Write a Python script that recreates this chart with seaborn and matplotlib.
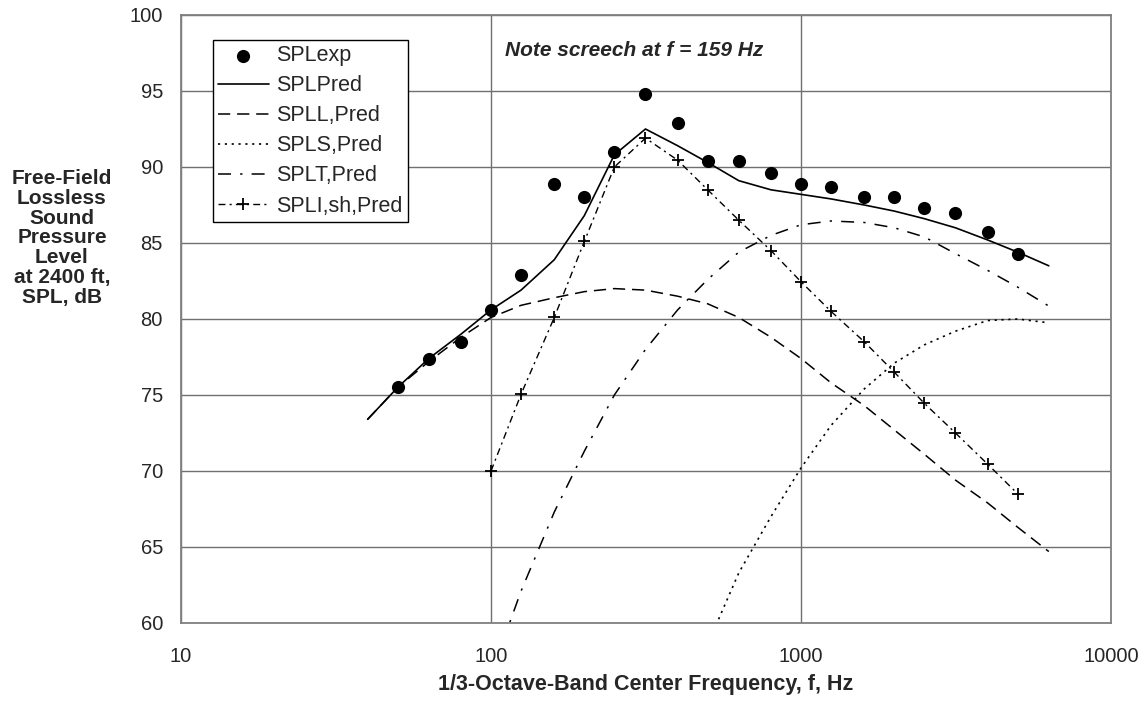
import numpy as np
import pandas as pd
import matplotlib
matplotlib.use("Agg")
import matplotlib.pyplot as plt
import seaborn as sns
from matplotlib.ticker import FixedLocator, FixedFormatter, NullLocator

# 1/3-octave band centre frequencies, Hz
freq_pred = [40, 50, 63, 80, 100, 125, 160, 200, 250, 315, 400, 500, 630,
             800, 1000, 1250, 1600, 2000, 2500, 3150, 4000, 5000, 6300]

# measured SPL (50 .. 5000 Hz)
freq_exp = [50, 63, 80, 100, 125, 160, 200, 250, 315, 400, 500, 630, 800,
            1000, 1250, 1600, 2000, 2500, 3150, 4000, 5000]
spl_exp = [75.5, 77.4, 78.5, 80.6, 82.9, 88.9, 88.0, 91.0, 94.8, 92.9, 90.4,
           90.4, 89.6, 88.9, 88.7, 88.0, 88.0, 87.3, 87.0, 85.7, 84.3]

# total prediction
spl_pred = [73.4, 75.5, 77.4, 79.0, 80.6, 81.9, 83.9, 86.8, 90.8, 92.5, 91.4,
            90.3, 89.1, 88.5, 88.2, 87.9, 87.5, 87.1, 86.6, 86.0, 85.2, 84.4, 83.5]

# large-scale mixing noise
spl_l = [73.4, 75.5, 77.2, 78.8, 80.1, 80.9, 81.4, 81.8, 82.0, 81.9, 81.5,
         81.0, 80.1, 78.8, 77.4, 75.8, 74.3, 72.7, 71.1, 69.4, 67.9, 66.3, 64.7]

# small-scale
freq_s = [500, 630, 800, 1000, 1250, 1600, 2000, 2500, 3150, 4000, 5000, 6300]
spl_s = [58.6, 63.3, 67.0, 70.2, 73.0, 75.4, 77.1, 78.3, 79.2, 79.9, 80.0, 79.75]

# transition
freq_t = [100, 125, 160, 200, 250, 315, 400, 500, 630, 800, 1000, 1250, 1600,
          2000, 2500, 3150, 4000, 5000, 6300]
spl_t = [56.6, 62.1, 67.3, 71.3, 75.0, 78.0, 80.6, 82.6, 84.4, 85.5, 86.2,
         86.45, 86.35, 86.0, 85.4, 84.3, 83.2, 82.1, 80.85]

# shock-associated / screech
freq_i = [100, 125, 160, 200, 250, 315, 400, 500, 630, 800, 1000, 1250, 1600,
          2000, 2500, 3150, 4000, 5000]
spl_i = [70.0, 75.05, 80.1, 85.1, 90.0, 91.9, 90.45, 88.5, 86.5, 84.5, 82.45,
         80.5, 78.5, 76.5, 74.45, 72.5, 70.45, 68.5]

sns.set_style("white")
plt.rcParams["font.family"] = ["Liberation Sans", "DejaVu Sans"]

fig = plt.figure(figsize=(11.46, 7.09), dpi=100)
ax = fig.add_axes([181 / 1146, 1 - 623 / 709, 930 / 1146, 608 / 709])

sns.scatterplot(x=freq_exp, y=spl_exp, ax=ax, color="black", s=90,
                edgecolor="black", linewidth=0, label="SPLexp", zorder=5)
sns.lineplot(x=freq_pred, y=spl_pred, ax=ax, color="black", lw=1.2,
             errorbar=None, label="SPLPred")
sns.lineplot(x=freq_pred, y=spl_l, ax=ax, color="black", lw=1.1,
             linestyle=(0, (8, 4.5)), errorbar=None, label="SPLL,Pred")
sns.lineplot(x=freq_s, y=spl_s, ax=ax, color="black", lw=1.2,
             linestyle=(0, (1.3, 2.8)), errorbar=None, label="SPLS,Pred")
sns.lineplot(x=freq_t, y=spl_t, ax=ax, color="black", lw=1.1,
             linestyle=(0, (8.5, 6, 1.5, 6)), errorbar=None, label="SPLT,Pred")
sns.lineplot(x=freq_i, y=spl_i, ax=ax, color="black", lw=1.0,
             linestyle=(0, (5, 3, 1.5, 3)), marker="+", markersize=9,
             markeredgecolor="black", markeredgewidth=1.3,
             errorbar=None, label="SPLI,sh,Pred")

ax.set_xscale("log")
ax.set_xlim(10, 10000)
ax.set_ylim(60, 100)
ax.xaxis.set_major_locator(FixedLocator([10, 100, 1000, 10000]))
ax.xaxis.set_major_formatter(FixedFormatter(["10", "100", "1000", "10000"]))
ax.xaxis.set_minor_locator(NullLocator())
ax.set_yticks(np.arange(60, 101, 5))

ax.grid(True, which="major", color="#707070", lw=1.0)
for sp in ax.spines.values():
    sp.set_color("#808080")
    sp.set_linewidth(1.3)
ax.tick_params(axis="both", which="major", direction="out", length=6,
               width=1.0, color="#808080", labelsize=14.5)
ax.tick_params(axis="y", pad=7)
ax.tick_params(axis="x", pad=11)

ax.set_xlabel("1/3-Octave-Band Center Frequency, f, Hz", fontsize=15.5,
              fontweight="bold", labelpad=6)
fig.text(62 / 1146, 1 - 238 / 709,
         "Free-Field\nLossless\nSound\nPressure\nLevel\nat 2400 ft,\nSPL, dB",
         ha="center", va="center", fontsize=15, fontweight="bold",
         linespacing=1.05)

ax.text(0.348, 0.942, "Note screech at f = 159 Hz", transform=ax.transAxes,
        fontsize=15, fontweight="bold", fontstyle="italic", ha="left",
        va="center")

leg = ax.legend(loc="upper left", bbox_to_anchor=(0.034, 0.959),
                borderaxespad=0, fontsize=15.5, handlelength=2.35,
                handletextpad=0.37, labelspacing=0.42, borderpad=0.25,
                fancybox=False, framealpha=1, edgecolor="black",
                scatterpoints=1)
leg.get_frame().set_linewidth(1.0)

fig.savefig("out.png", dpi=100)
